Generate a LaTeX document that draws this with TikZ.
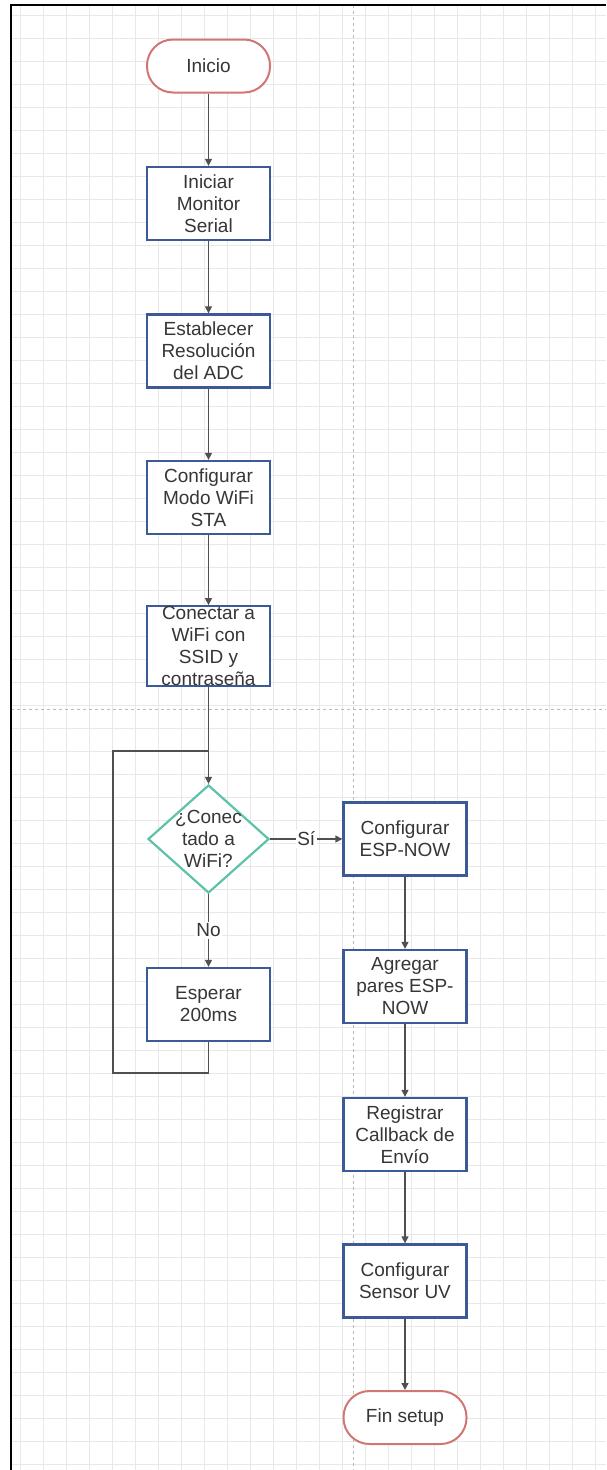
\documentclass[tikz,border=0pt]{standalone}
\usepackage{fontspec}
\setmainfont{Liberation Sans}
\usetikzlibrary{shapes.geometric,arrows.meta}
\definecolor{boxblue}{HTML}{3D5A98}
\definecolor{termred}{HTML}{D27575}
\definecolor{decteal}{HTML}{5EC2A9}
\definecolor{txt}{HTML}{363636}
\definecolor{ln}{HTML}{505050}
\definecolor{gridc}{HTML}{E8E8E8}
\begin{document}
\begin{tikzpicture}[x=1pt,y=-1pt,
  lbl/.style={font=\fontsize{19}{22}\selectfont, text=txt, align=center},
  proc/.style={lbl, draw=boxblue, line width=2.3pt, fill=white, minimum width=123pt, minimum height=73pt, inner sep=0pt},
  term/.style={lbl, draw=termred, line width=2pt, fill=white, rounded corners=26pt, minimum width=123pt, minimum height=53pt, inner sep=0pt},
  dec/.style={diamond, draw=decteal, line width=2.2pt, fill=white, minimum width=121pt, minimum height=108pt, inner sep=0pt},
  conn/.style={draw=ln, line width=1.3pt, -{Triangle[length=7pt,width=7pt]}},
  plain/.style={draw=ln, line width=1.3pt},
  edgelbl/.style={lbl, fill=white, inner sep=1.5pt}
]
\useasboundingbox (0,0) rectangle (606,1470);
% grid
\foreach \x in {20,43,...,606} \draw[gridc, line width=0.9pt] (\x,5) -- (\x,1470);
\foreach \y in {15,38,...,1470} \draw[gridc, line width=0.9pt] (11,\y) -- (606,\y);
% page-break lines
\draw[gray!55, dashed, line width=0.8pt] (353,5) -- (353,1470);
\draw[gray!55, dashed, line width=0.8pt] (11,709) -- (606,709);
% frame
\draw[black, line width=2.2pt] (11,1470) -- (11,5) -- (606,5);

% nodes
\node[term] (ini) at (208.5,66) {Inicio};
\node[proc] (b1) at (208.5,203.5) {Iniciar\\Monitor\\Serial};
\node[proc] (b2) at (208.5,351) {Establecer\\Resolución\\del ADC};
\node[proc] (b3) at (208.5,497.5) {Configurar\\Modo WiFi\\STA};
\node[proc] (b4) at (208.5,646) {Conectar a\\WiFi con\\SSID y\\contraseña};
\node[dec] (dec) at (208.5,839) {};
\node[lbl] (dectxt) at (dec.center) {¿Conec\\tado a\\WiFi?};
\node[proc] (esp) at (208.5,1004.5) {Esperar\\200ms};
\node[proc] (c1) at (405,839) {Configurar\\ESP-NOW};
\node[proc] (c2) at (405,986.5) {Agregar\\pares ESP-\\NOW};
\node[proc] (c3) at (405,1134.5) {Registrar\\Callback de\\Envío};
\node[proc] (c4) at (405,1281) {Configurar\\Sensor UV};
\node[term] (fin) at (405,1417.5) {Fin setup};

\coordinate (lpBR) at (208.5,1073);
\coordinate (lpBL) at (113,1073);
\coordinate (lpTL) at (113,751);
\coordinate (lpTR) at (208.5,751);

% connectors
\draw[conn] (ini) -- (b1);
\draw[conn] (b1) -- (b2);
\draw[conn] (b2) -- (b3);
\draw[conn] (b3) -- (b4);
\draw[conn] (b4) -- (dec);
\draw[conn] (dec) -- node[edgelbl] (lno) {No} (esp);
\draw[conn] (dec) -- node[edgelbl] (lsi) {Sí} (c1);
\draw[plain] (esp.south) -- (lpBR) -- (lpBL) -- (lpTL) -- (lpTR);
\draw[conn] (c1) -- (c2);
\draw[conn] (c2) -- (c3);
\draw[conn] (c3) -- (c4);
\draw[conn] (c4) -- (fin);
\end{tikzpicture}
\end{document}
